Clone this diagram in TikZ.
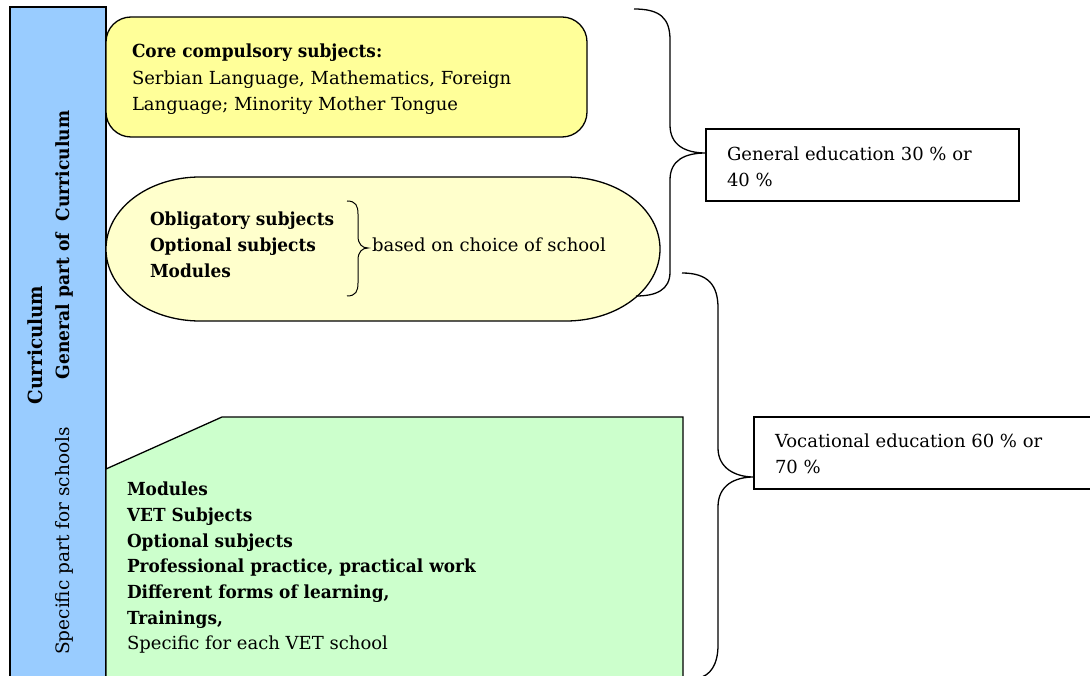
\documentclass[tikz,border=0pt]{standalone}
\usepackage{fontspec}
\setmainfont{DejaVu Serif}[BoldFeatures={FakeStretch=0.94}]
\begin{document}
\begin{tikzpicture}[x=1pt,y=-1pt,
  every node/.style={inner sep=0pt,outer sep=0pt},
  txt/.style={anchor=north west,align=left,font=\fontsize{18}{25.7}\selectfont},
  boxline/.style={draw=black,line width=1.3pt},
  brace/.style={draw=black,line width=1.3pt}]
\useasboundingbox (0,0) rectangle (1090,676);
\definecolor{barblue}{HTML}{99CCFF}
\definecolor{coreyel}{HTML}{FFFF99}
\definecolor{lightyel}{HTML}{FFFFCC}
\definecolor{lightgrn}{HTML}{CCFFCC}
% left bar
\path[boxline,fill=barblue] (10,7) rectangle (106,680);
\node[rotate=90,font=\bfseries\fontsize{19.5}{25}\selectfont] (curr) at (35,345) {Curriculum};
\node[rotate=90,font=\bfseries\fontsize{18.2}{25}\selectfont] (gen) at (64,245) {General part of\ \ Curriculum};
\node[rotate=90,font=\fontsize{18.5}{25}\selectfont] (spec) at (64,541) {Specific part for schools};
% top box
\path[boxline,fill=coreyel,rounded corners=25] (106,17) rectangle (587,137);
\node[txt] (core) at (132,44) {\textbf{Core compulsory subjects:}\\[1pt]Serbian Language, Mathematics, Foreign\\Language; Minority Mother Tongue};
% stadium
\path[boxline,fill=lightyel] (200,177) -- (566,177)
  .. controls (618,177) and (660,209) .. (660,249)
  .. controls (660,289) and (618,321) .. (566,321)
  -- (200,321)
  .. controls (148,321) and (106,289) .. (106,249)
  .. controls (106,209) and (148,177) .. (200,177) -- cycle;
\node[txt,font=\bfseries\fontsize{18}{25.7}\selectfont] (obl) at (150,212) {Obligatory subjects\\Optional subjects\\Modules};
\coordinate (bt) at (347,201);
\coordinate (bb) at (347,296);
\coordinate (btip) at (368,248);
\draw[line width=1pt] (bt) .. controls (356,201) and (358,206) .. (358,214) -- (358,236) .. controls (358,244) and (362,248) .. (btip) .. controls (362,248) and (358,252) .. (358,260) -- (358,283) .. controls (358,291) and (356,296) .. (bb);
\node[anchor=base west,font=\fontsize{18}{25}\selectfont] (choice) at (372,252) {based on choice of school};
% green polygon
\path[boxline,fill=lightgrn] (106,469) -- (222,417) -- (683,417) -- (683,680) -- (106,680) -- cycle;
\node[txt] (vet) at (127,482) {\textbf{Modules}\\\textbf{VET Subjects}\\\textbf{Optional subjects}\\\textbf{Professional practice, practical work}\\\textbf{Different forms of learning,}\\\textbf{Trainings,}\\Specific for each VET school};
% general box
\node[draw=black,line width=1.3pt,minimum width=313,minimum height=72,anchor=north west] (genbox) at (706,129) {};
\node[txt] (gentext) at (727,147) {General education 30 \% or\\40 \%};
% vocational box
\node[draw=black,line width=1.3pt,minimum width=340,minimum height=72,anchor=north west] (vocbox) at (754,417) {};
\node[txt] (voctext) at (775,434) {Vocational education 60 \% or\\70 \%};
% brace 1
\coordinate (g1) at (634,9);
\coordinate (g2) at (636,296);
\draw[brace] (g1) .. controls (660,9) and (670,18) .. (670,40) -- (670,125) .. controls (670,145) and (685,153) .. (genbox.west |- 0,153) .. controls (685,153) and (670,160) .. (670,180) -- (670,272) .. controls (670,290) and (656,296) .. (g2);
% brace 2
\coordinate (v1) at (682,273);
\coordinate (v2) at (698,678);
\draw[brace] (v1) .. controls (708,273) and (718,285) .. (718,308) -- (718,448) .. controls (718,468) and (735,477) .. (vocbox.west |- 0,477) .. controls (735,477) and (718,485) .. (718,507) -- (718,645) .. controls (718,665) and (710,676) .. (v2);
\end{tikzpicture}
\end{document}
